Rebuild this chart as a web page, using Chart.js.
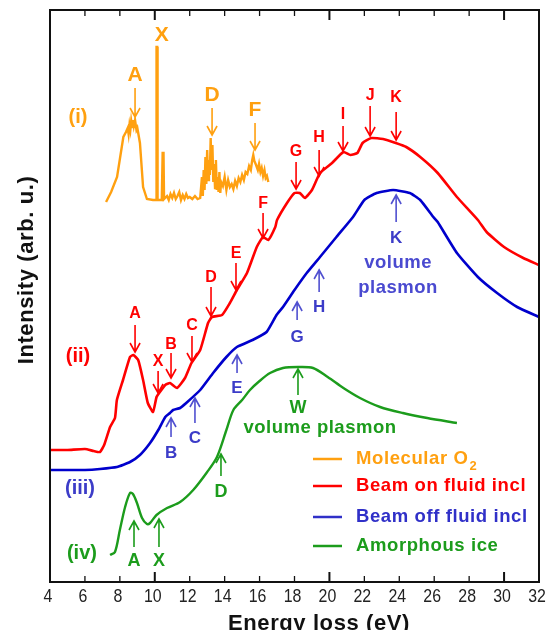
<!DOCTYPE html>
<html>
<head>
<meta charset="utf-8">
<script src="https://cdn.jsdelivr.net/npm/chart.js@4"></script>
<style>
  body { margin: 0; background: #fff; }
  #wrap { width: 550px; height: 630px; }
</style>
</head>
<body>
<div id="wrap"><canvas id="eels" width="550" height="630"></canvas></div>
<script>
// tick labels along the energy axis
const energyTicks = [4, 6, 8, 10, 12, 14, 16, 18, 20, 22, 24, 26, 28, 30, 32];

// (i) molecular O2 (noisy)
const o2Energy = [7.21, 7.5, 7.84, 8.2, 8.35, 8.45, 8.5, 8.55, 8.6, 8.65, 8.7, 8.75, 8.8, 8.87, 8.95, 9.0, 9.15, 9.33, 9.55, 9.9, 10.08, 10.1, 10.14, 10.16,
  10.4, 10.45, 10.5, 10.53, 10.7, 10.8, 10.9, 11.0, 11.1, 11.2, 11.3, 11.4, 11.5, 11.6, 11.7, 11.8, 11.9, 12.0, 12.15, 12.3, 12.45, 12.6,
  12.7, 12.75, 12.8, 12.85, 12.9, 12.95, 13.0, 13.05, 13.1, 13.15, 13.2, 13.25, 13.3, 13.35, 13.4, 13.45, 13.5, 13.55, 13.6, 13.65, 13.7,
  13.75, 13.8, 13.9, 14.0, 14.1, 14.2, 14.3, 14.4, 14.5, 14.6, 14.7, 14.8, 14.9, 15.0, 15.1, 15.2, 15.3, 15.4, 15.5, 15.58, 15.64, 15.7,
  15.8, 15.9, 15.97, 16.05, 16.12, 16.2, 16.28, 16.35, 16.42, 16.5];
const o2Intensity = [380, 390, 405, 445, 450, 454, 448, 457, 452, 461, 455, 462, 456, 462, 452, 454, 439, 395, 383, 382, 382, 535, 535, 382,
  382, 429, 429, 383, 386, 382, 388, 384, 389, 383, 386, 390, 382, 387, 383, 388, 384, 385, 383, 386, 383, 384,
  405, 386, 412, 392, 425, 398, 432, 402, 422, 407, 444, 412, 437, 400, 418, 394, 422, 392, 405, 390, 410,
  389, 400, 396, 405, 392, 402, 395, 398, 393, 401, 396, 404, 400, 407, 402, 410, 408, 416, 412, 422, 427, 421,
  417, 412, 418, 410, 414, 406, 412, 404, 406, 400];

// (ii) beam on fluid inclusion
const beamOnEnergy = [4.0, 5.0, 6.0, 6.5, 6.86, 7.1, 7.44, 7.72, 7.83, 8.18, 8.58, 8.77, 9.05, 9.33, 9.6, 9.9, 10.1, 10.25, 10.6, 10.87,
  11.27, 11.73, 12.1, 12.6, 13.05, 13.27, 13.85, 14.3, 14.7, 15.28, 15.84, 16.2, 16.5, 16.9, 17.0, 17.57, 18.0, 18.3, 18.6, 19.0,
  19.46, 20.15, 20.8, 21.2, 21.6, 21.9, 22.4, 23.07, 23.8, 24.4, 25.2, 26.2, 27.3, 28.5, 29.0, 30.0, 31.1, 32.0];
const beamOnIntensity = [132, 132, 133, 131, 130, 137, 155, 164, 182, 202, 225, 227, 222, 202, 179, 170, 185, 189, 197, 199,
  194, 204, 219, 232, 259, 265, 267, 279, 292, 309, 335, 345, 342, 355, 362, 379, 389, 389, 384, 392,
  409, 419, 430, 427, 429, 439, 444, 443, 439, 435, 425, 409, 385, 362, 350, 335, 324, 317];

// (iii) beam off fluid inclusion
const beamOffEnergy = [4.0, 5.0, 6.0, 6.86, 7.83, 8.58, 9.15, 9.73, 10.2, 10.6, 10.87, 11.05, 11.45, 11.8, 12.6, 13.34, 14.1, 14.7,
  15.6, 16.4, 16.97, 17.34, 18.0, 18.7, 19.46, 20.4, 21.35, 22.0, 22.7, 23.65, 24.6, 25.2, 25.95, 26.2, 27.3, 28.5, 29.6, 30.75, 32.0];
const beamOffIntensity = [112, 112, 112, 113, 115, 120, 127, 139, 152, 165, 169, 172, 174, 179, 192, 209, 225, 235,
  242, 250, 267, 275, 292, 309, 325, 345, 365, 382, 389, 392, 389, 382, 365, 360, 329, 305, 289, 275, 265];

// (iv) amorphous ice
const iceEnergy = [7.44, 7.72, 8.0, 8.3, 8.58, 8.75, 8.98, 9.27, 9.55, 9.73, 10.1, 10.7, 11.45, 12.2, 13.0, 13.56, 14.1, 14.5, 15.0,
  15.45, 16.0, 16.6, 17.34, 18.2, 19.06, 19.9, 20.8, 21.75, 22.9, 24.2, 25.6, 27.3];
const iceIntensity = [27, 30, 52, 75, 89, 88, 79, 64, 58, 59, 67, 74, 80, 92, 110, 125, 152, 172, 182,
  192, 201, 209, 214, 215, 214, 205, 194, 184, 175, 169, 164, 159];

// peak markers: [label, energy, text level, arrow tail level, arrow head level]
const o2Marks = [['A', 8.87, 507, 494, 465], ['X', 10.4, 547, null, null], ['D', 13.28, 487, 474, 447], ['F', 15.74, 472, 459, 432]];
const beamOnMarks = [['A', 8.87, 268, 257, 230], ['X', 10.19, 220, 211, 189], ['B', 10.93, 237, 229, 204], ['C', 12.13, 256, 246, 220],
  ['D', 13.22, 304, 295, 266], ['E', 14.65, 328, 319, 292], ['F', 16.2, 378, 369, 344], ['G', 18.09, 430, 420, 393],
  ['H', 19.41, 444, 432, 406], ['I', 20.78, 467, 456, 431], ['J', 22.33, 486, 476, 446], ['K', 23.82, 484, 470, 442]];
const beamOffMarks = [['B', 10.93, 129, 145, 164], ['C', 12.3, 144, 159, 184], ['E', 14.71, 194, 209, 227],
  ['G', 18.15, 245, 262, 280], ['H', 19.41, 275, 290, 312], ['K', 23.82, 344, 360, 387]];
const iceMarks = [['A', 8.81, 21, 35, 61], ['X', 10.24, 21, 35, 63], ['D', 13.79, 90, 106, 128], ['W', 18.2, 174, 187, 213]];

const seriesNames = ['Molecular O', 'Beam on fluid incl', 'Beam off fluid incl', 'Amorphous ice'];

const ORANGE = '#ffa010';
const RED = '#ff0000';
const BLUE = '#0000cc';
const BLUE_TXT = '#3c3cc8';
const GREEN = '#1c9c1c';
const FONT = '"Liberation Sans", Arial, sans-serif';

const toPts = (xs, ys) => xs.map((v, i) => ({ x: v, y: ys[i] }));

function arrow(ctx, px, y0, y1, color) {
  const dir = y1 > y0 ? 1 : -1;
  ctx.strokeStyle = color;
  ctx.lineWidth = 1.6;
  ctx.beginPath();
  ctx.moveTo(px, y0);
  ctx.lineTo(px, y1);
  ctx.moveTo(px - 5, y1 - dir * 9);
  ctx.lineTo(px, y1);
  ctx.lineTo(px + 5, y1 - dir * 9);
  ctx.stroke();
}

function drawMarks(ctx, x, y, marks, color, font, arrowColor) {
  ctx.font = font;
  ctx.textAlign = 'center';
  ctx.textBaseline = 'middle';
  marks.forEach(m => {
    const px = x.getPixelForValue(m[1]);
    ctx.fillStyle = color;
    ctx.fillText(m[0], px, y.getPixelForValue(m[2]));
    if (m[3] !== null) arrow(ctx, px, y.getPixelForValue(m[3]), y.getPixelForValue(m[4]), arrowColor || color);
  });
}

const overlay = {
  id: 'overlay',
  afterDatasetsDraw(chart) {
    const { ctx, chartArea: a, scales: { x, y } } = chart;
    ctx.save();

    // frame + inward ticks
    ctx.strokeStyle = '#111';
    ctx.lineWidth = 2;
    ctx.strokeRect(a.left, a.top, a.right - a.left, a.bottom - a.top);
    energyTicks.forEach(v => {
      if (v === energyTicks[0] || v === energyTicks[energyTicks.length - 1]) return;
      const px = x.getPixelForValue(v);
      const len = v % 10 === 0 ? 10 : 6;
      ctx.lineWidth = v % 10 === 0 ? 2 : 1.3;
      ctx.beginPath();
      ctx.moveTo(px, a.bottom); ctx.lineTo(px, a.bottom - len);
      ctx.moveTo(px, a.top); ctx.lineTo(px, a.top + len);
      ctx.stroke();
    });

    // tick labels (narrow look)
    ctx.fillStyle = '#222';
    ctx.font = '18.5px ' + FONT;
    ctx.textAlign = 'center';
    ctx.textBaseline = 'middle';
    energyTicks.forEach(v => {
      const px = x.getPixelForValue(v);
      ctx.save();
      ctx.translate(px - 2, a.bottom + 15);
      ctx.scale(0.86, 1);
      ctx.fillText(String(v), 0, 0);
      ctx.restore();
    });

    // axis titles
    ctx.fillStyle = '#111';
    ctx.letterSpacing = '0.6px';
    ctx.font = 'bold 22px ' + FONT;
    ctx.fillText('Energy loss (eV)', 319, a.bottom + 42);
    ctx.save();
    ctx.translate(27, 270);
    ctx.rotate(-Math.PI / 2);
    ctx.fillText('Intensity (arb. u.)', 0, 0);
    ctx.restore();
    ctx.letterSpacing = '0px';

    // peak labels and arrows
    drawMarks(ctx, x, y, o2Marks, ORANGE, 'bold 21px ' + FONT);
    drawMarks(ctx, x, y, beamOnMarks, RED, 'bold 16px ' + FONT);
    drawMarks(ctx, x, y, beamOffMarks, BLUE_TXT, 'bold 17px ' + FONT, '#5050d0');
    drawMarks(ctx, x, y, iceMarks, GREEN, 'bold 18px ' + FONT);

    // spectrum tags and plasmon notes
    ctx.font = 'bold 20px ' + FONT;
    ctx.fillStyle = ORANGE; ctx.fillText('(i)', x.getPixelForValue(5.6), y.getPixelForValue(465));
    ctx.fillStyle = RED; ctx.fillText('(ii)', x.getPixelForValue(5.6), y.getPixelForValue(226));
    ctx.fillStyle = BLUE_TXT; ctx.fillText('(iii)', x.getPixelForValue(5.72), y.getPixelForValue(94));
    ctx.fillStyle = GREEN; ctx.fillText('(iv)', x.getPixelForValue(5.83), y.getPixelForValue(29));

    ctx.letterSpacing = '0.5px';
    ctx.font = 'bold 18.5px ' + FONT;
    ctx.fillStyle = '#4a4ad0';
    ctx.fillText('volume', x.getPixelForValue(23.93), y.getPixelForValue(319));
    ctx.fillText('plasmon', x.getPixelForValue(23.93), y.getPixelForValue(294));
    ctx.fillStyle = GREEN;
    ctx.fillText('volume plasmon', x.getPixelForValue(19.46), y.getPixelForValue(154));

    // legend
    const colors = [ORANGE, RED, '#3030c8', GREEN];
    const rows = [449, 476, 507, 536];
    ctx.letterSpacing = '0.6px';
    ctx.font = 'bold 18.5px ' + FONT;
    ctx.textAlign = 'left';
    seriesNames.forEach((name, i) => {
      const ry = a.top + rows[i];
      ctx.strokeStyle = colors[i];
      ctx.lineWidth = 2.5;
      ctx.beginPath();
      ctx.moveTo(a.left + 263, ry); ctx.lineTo(a.left + 292, ry);
      ctx.stroke();
      ctx.fillStyle = colors[i];
      ctx.fillText(name, a.left + 306, ry);
      if (i === 0) {
        const w = ctx.measureText(name).width;
        ctx.font = 'bold 13px ' + FONT;
        ctx.fillText('2', a.left + 306 + w + 1, ry + 7);
        ctx.font = 'bold 18.5px ' + FONT;
      }
    });

    ctx.restore();
  }
};

new Chart(document.getElementById('eels'), {
  type: 'line',
  data: {
    datasets: [
      { label: 'Molecular O2', data: toPts(o2Energy, o2Intensity), borderColor: ORANGE, borderWidth: 2.4, tension: 0 },
      { label: 'Beam on fluid incl', data: toPts(beamOnEnergy, beamOnIntensity), borderColor: RED, borderWidth: 2.6, tension: 0.15 },
      { label: 'Beam off fluid incl', data: toPts(beamOffEnergy, beamOffIntensity), borderColor: BLUE, borderWidth: 2.6, tension: 0.15 },
      { label: 'Amorphous ice', data: toPts(iceEnergy, iceIntensity), borderColor: GREEN, borderWidth: 2.4, tension: 0.3 }
    ]
  },
  options: {
    responsive: false,
    animation: false,
    parsing: false,
    elements: { point: { radius: 0 } },
    layout: { padding: { left: 50, right: 11, top: 10, bottom: 48 } },
    plugins: { legend: { display: false }, tooltip: { enabled: false } },
    scales: {
      x: { type: 'linear', min: 4, max: 32, display: false },
      y: { type: 'linear', min: 0, max: 572, display: false }
    }
  },
  plugins: [overlay]
});
</script>
</body>
</html>
